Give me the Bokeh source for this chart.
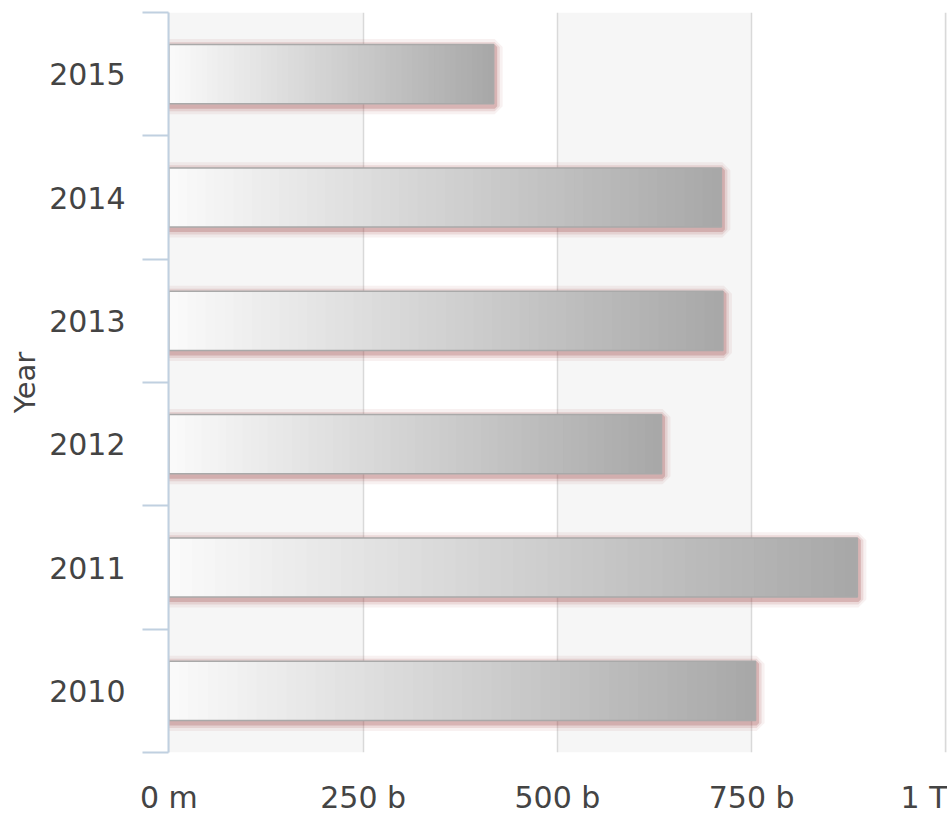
import numpy as np
from bokeh.plotting import figure
from bokeh.models import Range1d, FixedTicker, Title, ColumnDataSource
from bokeh.embed import file_html
from bokeh.resources import INLINE

# ---- data ----
years = ["2010", "2011", "2012", "2013", "2014", "2015"]
values_b = [755, 886, 634, 713, 711, 418]          # in billions
x_tick_values = [0, 250, 500, 750, 1000]
x_tick_labels = ["0 m", "250 b", "500 b", "750 b", "1 T"]
axis_title = "Year"

FONT = "DejaVu Sans"
TXT = "#444444"
AXIS = "#c0d0e0"

p = figure(width=947, height=817, output_backend="svg", toolbar_location=None,
           x_range=Range1d(-0.5, 1002), y_range=Range1d(0, 6),
           min_border_left=168, min_border_right=0, min_border_top=12,
           min_border_bottom=57, outline_line_color=None)

y_centers = [i + 0.5 for i in range(len(years))]
bar_h = 0.48
px_y = 6 / 748.0
px_x = 1002 / 779.0

# shadow (pinkish glow)
for w, a in [(16, 0.08), (10, 0.14), (5, 0.26)]:
    p.hbar(y=[c - 2.5 * px_y for c in y_centers], left=0,
           right=[v + 1 * px_x for v in values_b], height=bar_h,
           fill_color=None, line_color="#a04a4a", line_alpha=a, line_width=w)

# gradient bars (overlapping segments from white to gray)
N = 60
ys, lefts, rights, cols = [], [], [], []
for c, v in zip(y_centers, values_b):
    edges = np.linspace(0, v, N + 1)[:-1]
    for k, e in enumerate(edges):
        t = k / (N - 1)
        g = int(round(250 - t * (250 - 168)))
        ys.append(c)
        lefts.append(e)
        rights.append(v)
        cols.append("#%02x%02x%02x" % (g, g, g))
src = ColumnDataSource(dict(y=ys, left=lefts, right=rights, color=cols))
p.hbar(y="y", left="left", right="right", height=bar_h, source=src,
       fill_color="color", line_color=None)

# bar border
p.hbar(y=y_centers, left=0, right=values_b, height=bar_h,
       fill_color=None, line_color="#a9a9a9", line_width=1.5)

# grid with alternate bands (first band 0-250 shaded)
p.ygrid.visible = False
p.xgrid.ticker = FixedTicker(ticks=x_tick_values)
p.xgrid.grid_line_color = "#d9d9d9"
p.xgrid.grid_line_width = 1.5
p.xgrid.band_fill_color = "#f6f6f6"
p.xgrid.band_fill_alpha = 1.0

# x axis
xa = p.xaxis[0]
xa.ticker = FixedTicker(ticks=x_tick_values)
xa.major_label_overrides = {t: l for t, l in zip(x_tick_values, x_tick_labels)}
xa.axis_line_color = None
xa.major_tick_line_color = None
xa.minor_tick_line_color = None
xa.major_label_standoff = 21
xa.major_label_text_font = FONT
xa.major_label_text_font_size = "30px"
xa.major_label_text_color = TXT

# y axis: labels at centers, ticks at category boundaries
ya = p.yaxis[0]
ya.ticker = FixedTicker(ticks=y_centers, minor_ticks=list(range(len(years) + 1)))
ya.major_label_overrides = {c: y for c, y in zip(y_centers, years)}
ya.axis_line_color = AXIS
ya.axis_line_width = 2
ya.major_tick_out = 0
ya.major_tick_in = 0
ya.major_tick_line_color = None
ya.minor_tick_out = 26
ya.minor_tick_in = 0
ya.minor_tick_line_color = AXIS
ya.minor_tick_line_width = 2
ya.major_label_standoff = 17
ya.major_label_text_font = FONT
ya.major_label_text_font_size = "30px"
ya.major_label_text_color = TXT

p.add_layout(Title(text=axis_title, align="center", text_font=FONT,
                   text_font_size="29px", text_font_style="normal",
                   text_color=TXT, standoff=10, offset=0), "left")

open("out.html", "w").write(file_html(p, INLINE))
